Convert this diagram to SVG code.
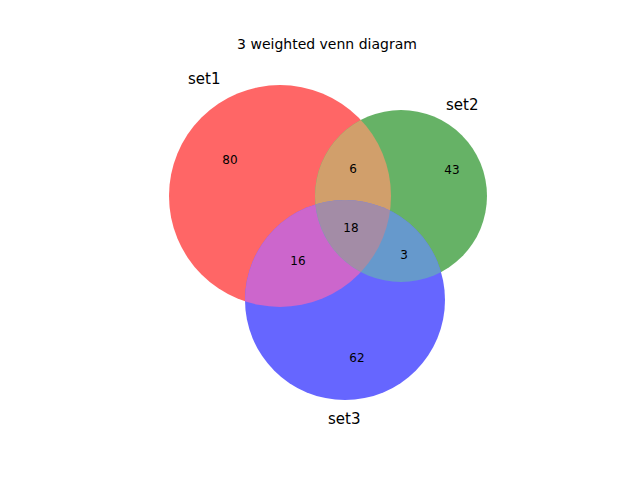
<svg xmlns="http://www.w3.org/2000/svg" width="640" height="480" viewBox="0 0 640 480">
<style>
text{font-family:"DejaVu Sans",sans-serif;fill:#000}
.n{font-size:12px;text-anchor:middle}
.s{font-size:15px}
</style>
<defs>
<clipPath id="k1"><circle cx="280" cy="196" r="111"/></clipPath>
<clipPath id="k2"><circle cx="401" cy="196" r="86"/></clipPath>
<clipPath id="k12" clip-path="url(#k1)"><circle cx="401" cy="196" r="86"/></clipPath>
</defs>
<rect width="640" height="480" fill="#fff"/>
<text x="327" y="49" font-size="14" text-anchor="middle">3 weighted venn diagram</text>
<g id="set1"><circle cx="280" cy="196" r="111" fill="#ff6666"/></g>
<g id="set2"><circle cx="401" cy="196" r="86" fill="#66b266"/></g>
<g id="set3"><circle cx="345" cy="300" r="100" fill="#6666ff"/></g>
<g id="r12"><circle cx="401" cy="196" r="86" fill="#d19f6b" clip-path="url(#k1)"/></g>
<g id="r13"><circle cx="345" cy="300" r="100" fill="#cc66cc" clip-path="url(#k1)"/></g>
<g id="r23"><circle cx="345" cy="300" r="100" fill="#6699cc" clip-path="url(#k2)"/></g>
<g id="r123"><circle cx="345" cy="300" r="100" fill="#a38ca6" clip-path="url(#k12)"/></g>
<g id="labels">
<text class="n" x="230" y="164">80</text>
<text class="n" x="353" y="173">6</text>
<text class="n" x="452" y="174">43</text>
<text class="n" x="351" y="232">18</text>
<text class="n" x="298" y="265">16</text>
<text class="n" x="404" y="259">3</text>
<text class="n" x="357" y="362">62</text>
<text class="s" x="188" y="84">set1</text>
<text class="s" x="446" y="110">set2</text>
<text class="s" x="328" y="424">set3</text>
</g>
</svg>
